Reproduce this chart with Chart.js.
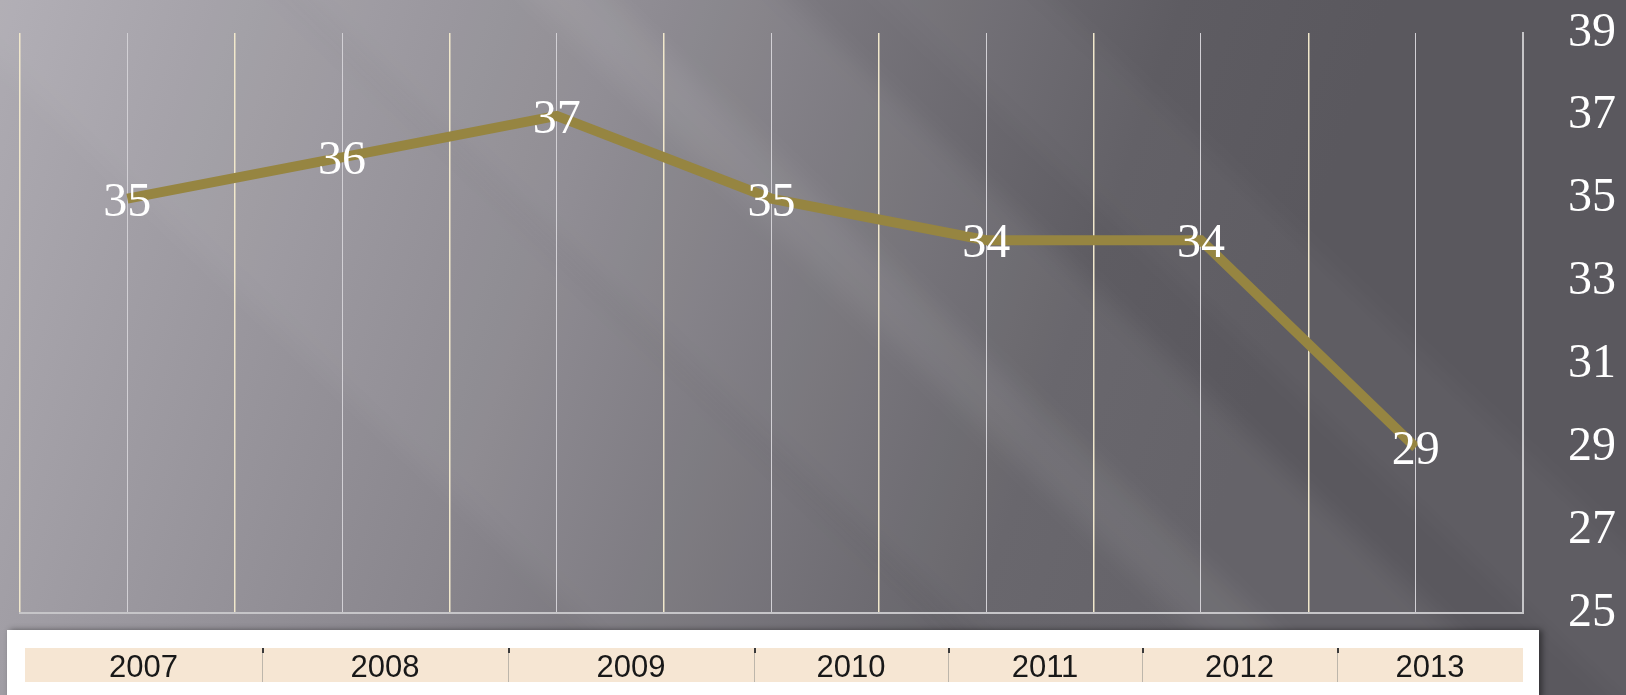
<!DOCTYPE html>
<html>
<head>
<meta charset="utf-8">
<script src="https://cdn.jsdelivr.net/npm/chart.js@4.4.0/dist/chart.umd.min.js"></script>
<style>
  html, body { margin: 0; padding: 0; background: #5b595f; }
  #wrap { width: 1626px; height: 695px; }
</style>
</head>
<body>
<div id="wrap"><canvas id="lineChart" width="1626" height="695"></canvas></div>
<script>
// --- data ---
const years = ['2007', '2008', '2009', '2010', '2011', '2012', '2013'];
const values = [35, 36, 37, 35, 34, 34, 29];
const yTicks = [25, 27, 29, 31, 33, 35, 37, 39];

const serif = "'Liberation Serif', 'DejaVu Serif', serif";

// gray slide background with diagonal light streaks
const backdrop = {
    id: 'backdrop',
    beforeDraw(chart) {
        const { ctx, width, height } = chart;
        ctx.save();
        const g = ctx.createLinearGradient(0, 0, 1250, 420);
        g.addColorStop(0, '#aeabb2');
        g.addColorStop(0.45, '#89868d');
        g.addColorStop(0.85, '#5e5c62');
        g.addColorStop(1, '#5a585e');
        ctx.fillStyle = g;
        ctx.fillRect(0, 0, width, height);

        // [x at top left, x at top right, alpha]
        const streaks = [[-120, 240, 0.05], [250, 560, 0.07], [480, 740, 0.07], [830, 1000, 0.035]];
        const k = 1.05;
        ctx.filter = 'blur(12px)';
        streaks.forEach(([x0, x1, a]) => {
            ctx.fillStyle = 'rgba(255,255,255,' + a + ')';
            ctx.beginPath();
            ctx.moveTo(x0, -50);
            ctx.lineTo(x1, -50);
            ctx.lineTo(x1 + (height + 100) * k, height + 50);
            ctx.lineTo(x0 + (height + 100) * k, height + 50);
            ctx.closePath();
            ctx.fill();
        });
        ctx.filter = 'none';
        ctx.restore();
    }
};

// value labels on the points
const pointLabels = {
    id: 'pointLabels',
    afterDatasetsDraw(chart) {
        const { ctx } = chart;
        const meta = chart.getDatasetMeta(0);
        ctx.save();
        ctx.font = '48px ' + serif;
        ctx.fillStyle = '#ffffff';
        ctx.textAlign = 'center';
        ctx.textBaseline = 'alphabetic';
        meta.data.forEach((pt, i) => {
            ctx.fillText(String(values[i]), pt.x, pt.y + 17);
        });
        ctx.restore();
    }
};

// the pasted year strip under the plot
const yearStrip = {
    id: 'yearStrip',
    afterDraw(chart, args, opts) {
        const { ctx } = chart;
        const edges = opts.edges;
        ctx.save();
        ctx.shadowColor = 'rgba(0,0,0,0.45)';
        ctx.shadowBlur = 6;
        ctx.shadowOffsetX = 3;
        ctx.fillStyle = '#ffffff';
        ctx.fillRect(7, 630, 1532, 70);
        ctx.shadowColor = 'transparent';

        ctx.fillStyle = '#f6e6d3';
        ctx.fillRect(edges[0], 648, edges[edges.length - 1] - edges[0], 34);

        for (let i = 1; i < edges.length - 1; i++) {
            ctx.fillStyle = '#bdb6ab';
            ctx.fillRect(edges[i], 648, 1, 34);
            ctx.fillStyle = '#3a3a3a';
            ctx.fillRect(edges[i], 648, 2, 5);
        }

        ctx.font = '31px "Liberation Sans", Arial, sans-serif';
        ctx.fillStyle = '#181818';
        ctx.textAlign = 'center';
        ctx.textBaseline = 'alphabetic';
        years.forEach((y, i) => {
            ctx.fillText(y, (edges[i] + edges[i + 1]) / 2, 677);
        });
        ctx.restore();
    }
};

const ctx = document.getElementById('lineChart').getContext('2d');
const lineChart = new Chart(ctx, {
    type: 'line',
    data: {
        labels: years,
        datasets: [{
            data: values,
            borderColor: '#968541',
            borderWidth: 10,
            pointRadius: 0,
            tension: 0,
            fill: false
        }]
    },
    options: {
        responsive: false,
        animation: false,
        layout: { padding: { left: 20, top: 33, right: 0, bottom: 82 } },
        plugins: {
            legend: { display: false },
            tooltip: { enabled: false },
            yearStrip: { edges: [25, 262, 508, 754, 948, 1142, 1337, 1523] }
        },
        scales: {
            x: {
                type: 'category',
                offset: true,
                grid: { offset: true, color: '#f1e8cc', lineWidth: 1.5, drawTicks: false },
                border: { display: true, color: '#c6c5c8', width: 2 },
                ticks: { display: false },
                afterFit(s) { s.height = 0; }
            },
            xMid: {
                type: 'category',
                position: 'bottom',
                offset: true,
                grid: { offset: false, color: '#d2d0d5', lineWidth: 1, drawTicks: false },
                border: { display: false },
                ticks: { display: false },
                afterFit(s) { s.height = 0; }
            },
            y: {
                position: 'right',
                min: 25,
                max: 39,
                afterBuildTicks(s) { s.ticks = yTicks.map(v => ({ value: v })); },
                grid: { display: false, drawTicks: false },
                border: { display: true, color: '#c6c5c8', width: 2 },
                ticks: {
                    color: '#ffffff',
                    padding: 45,
                    font: { family: serif, size: 48 }
                },
                afterFit(s) {
                    s.width = 103;
                    s.paddingTop = 0;
                    s.paddingBottom = 0;
                }
            }
        }
    },
    plugins: [backdrop, pointLabels, yearStrip]
});
</script>
</body>
</html>
